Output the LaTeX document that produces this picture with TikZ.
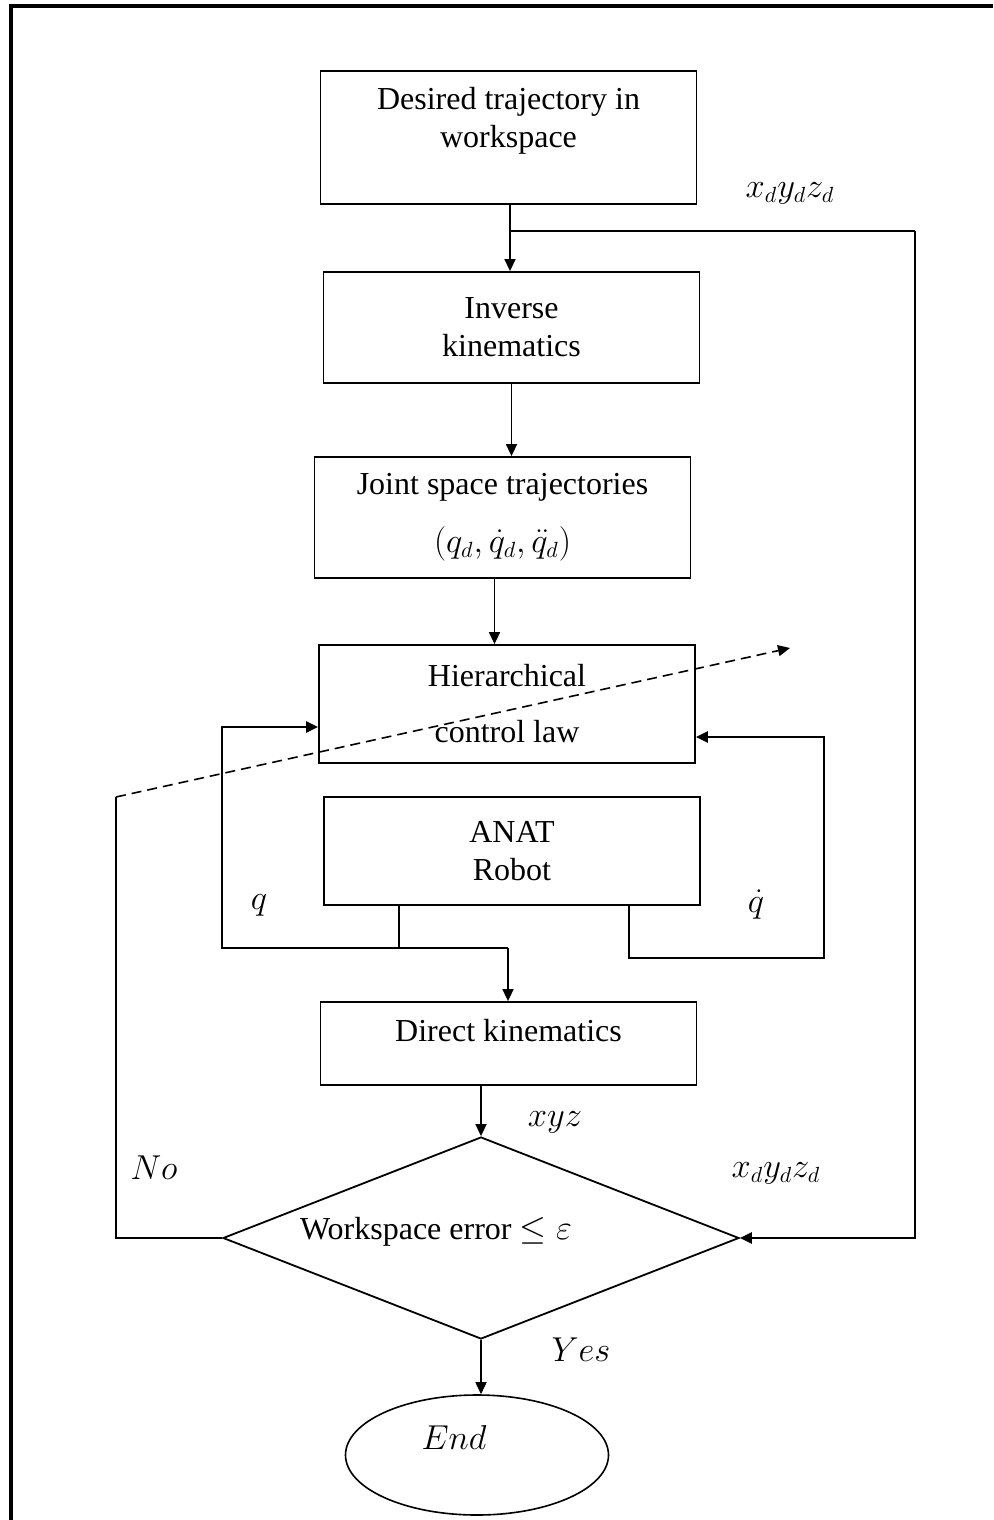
\documentclass[tikz,border=0pt]{standalone}
\usepackage{fontspec}
\setmainfont{Liberation Serif}
\usetikzlibrary{arrows.meta,positioning,shapes.geometric,calc}

\begin{document}
\begin{tikzpicture}[
    x=0.5pt, y=-0.5pt,
    box/.style={
      draw, line width=0.9pt, minimum width=188pt,
      align=center, inner sep=2pt,
      font=\fontsize{16}{19}\selectfont
    },
    decision/.style={draw, diamond, line width=0.9pt,
      minimum width=258pt, minimum height=101pt, inner sep=0pt},
    terminal/.style={draw, ellipse, line width=0.8pt,
      minimum width=131.5pt, minimum height=60pt},
    txt/.style={font=\fontsize{16}{19}\selectfont, inner sep=0pt},
    arr/.style={-{Triangle[length=6pt,width=5.5pt]}, line width=0.8pt},
    wire/.style={line width=1.4pt}
  ]

  % frame (only top and left edges are left)
  \useasboundingbox (0,0) rectangle (993,1520);
  \draw[line width=2pt] (11,1520) -- (11,6) -- (993,6);

  % main chain
  \node[box, minimum height=66.5pt, text depth=20pt] (desired) at (508.5,137.5) {Desired trajectory in\\workspace};
  \node[box, minimum height=55.5pt] (inverse) at (511.5,327.5) {Inverse\\kinematics};
  \node[box, minimum height=60.5pt] (joint) at (502.5,517.5) {Joint space trajectories\\[10pt]$(q_d,\dot q_d,\ddot q_d)$};
  \node[box, minimum height=59pt] (hier) at (507,704) {Hierarchical\\[9pt]control law};
  \node[box, minimum height=54pt] (robot) at (512,851) {ANAT\\Robot};
  \node[box, minimum height=41.5pt, text depth=13pt] (direct) at (508.5,1043.5) {Direct kinematics};

  % test and end
  \node[decision] (check) at (481,1238) {};
  \node[txt] (checkText) at (436,1232) {Workspace error $\leq \varepsilon$};
  \node[terminal] (stop) at (477,1455) {};
  \node[txt] (stopText) at (454,1437) {$End$};

  % bends
  \coordinate (split) at (510,231);
  \coordinate (rail) at (915,231);
  \coordinate (noTurn) at (116,797);
  \coordinate (dashTip) at (790,648);
  \coordinate (qLeft) at (222,948);
  \coordinate (qJoin) at (399,948);
  \coordinate (qRight) at (508,948);
  \coordinate (dqDown) at (629,958);
  \coordinate (dqRight) at (824,958);

  % arrows
  \draw[arr] (desired.south -| split) -- (split |- inverse.north);
  \draw[line width=1pt] (split) -- (rail);
  \draw[arr, wire] (rail) |- (check.east);
  \draw[arr] (inverse.south) -- (inverse.south |- joint.north);
  \draw[arr] ([xshift=-4pt]joint.south) -- ([xshift=-4pt]joint.south |- hier.north);
  \draw[wire] (robot.south -| qJoin) -- (qJoin);
  \draw[arr, wire] (qRight) -- (qLeft) |- ([yshift=-11.5pt]hier.west);
  \draw[arr] (qRight) -- (qRight |- direct.north);
  \draw[arr, wire] (robot.south -| dqDown) -- (dqDown) -- (dqRight) |- ([yshift=-16.5pt]hier.east);
  \draw[arr] (check.north |- direct.south) -- (check.north);
  \draw[arr] (check.south) -- (check.south |- stop.north);
  \draw[wire] (check.west) -| (noTurn);
  \draw[arr, dash pattern=on 5pt off 3pt] (noTurn) -- (dashTip);

  % signal labels
  \node[txt] (xdTop) at (790,193) {$x_dy_dz_d$};
  \node[txt] (qLabel) at (259,905) {$q$};
  \node[txt] (dqLabel) at (756,905) {$\dot q$};
  \node[txt] (xyzLabel) at (555,1122) {$xyz$};
  \node[txt] (noLabel) at (154,1168) {$No$};
  \node[txt] (xdLow) at (776,1173) {$x_dy_dz_d$};
  \node[txt] (yesLabel) at (581,1350) {$Yes$};

\end{tikzpicture}
\end{document}
